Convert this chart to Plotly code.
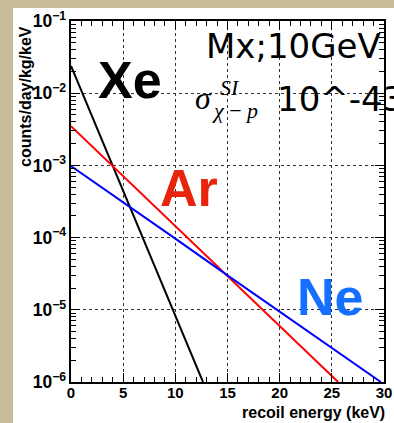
import plotly.graph_objects as go

# ---- data (energy in keV, rate in counts/day/kg/keV) ----
xe_energy = [0, 4, 6, 8, 10, 12, 12.65]
xe_rate = [0.0238, 9.9e-4, 2.0e-4, 4.1e-5, 8.4e-6, 1.7e-6, 1.0e-6]

ar_energy = [0, 5, 10, 15, 20, 25, 25.6]
ar_rate = [3.5e-3, 7.1e-4, 1.45e-4, 2.95e-5, 6.0e-6, 1.22e-6, 1.0e-6]

ne_energy = [0, 5, 10, 15, 20, 25, 29.7]
ne_rate = [9.8e-4, 3.1e-4, 9.7e-5, 3.0e-5, 9.5e-6, 3.0e-6, 1.0e-6]

x_ticks = [0, 5, 10, 15, 20, 25, 30]

W, H = 394, 423
L, R, T, B = 71, 10, 21, 41
PW, PH = W - L - R, H - T - B


def px(xpix):
    return (xpix - L) / PW


def py(ypix):
    return (H - B - ypix) / PH


BOLD = "Liberation Sans"
BEIGE = "#c7bc98"
fig = go.Figure()
fig.add_trace(go.Scatter(x=xe_energy, y=xe_rate, mode="lines",
                         line=dict(color="black", width=2), showlegend=False))
fig.add_trace(go.Scatter(x=ar_energy, y=ar_rate, mode="lines",
                         line=dict(color="#ff0000", width=2), showlegend=False))
fig.add_trace(go.Scatter(x=ne_energy, y=ne_rate, mode="lines",
                         line=dict(color="#0000ff", width=2), showlegend=False))

axis_common = dict(
    showline=True, linecolor="black", linewidth=2, mirror="allticks",
    ticks="inside", ticklen=9, tickwidth=1, tickcolor="black",
    showgrid=True, gridcolor="#333333", griddash="dot", gridwidth=1,
    zeroline=False, automargin=False,
)

fig.update_xaxes(range=[0, 30], tickvals=x_ticks, ticktext=[str(v) for v in x_ticks],
                 tickfont=dict(family=BOLD, size=15, color="black", weight="bold"),
                 minor=dict(dtick=1, ticks="inside", ticklen=5, tickcolor="black", showgrid=False),
                 ticklabelstandoff=-4,
                 **axis_common)
fig.update_yaxes(type="log", range=[-6, -1], dtick=1, exponentformat="power",
                 tickfont=dict(family=BOLD, size=14, color="black", weight="bold"),
                 minor=dict(dtick="D1", ticks="inside", ticklen=5, tickcolor="black", showgrid=False),
                 **axis_common)

anns = [
    dict(text="Xe", x=px(130), y=py(80), font=dict(family=BOLD, size=52, color="black", weight="bold"),
         xanchor="center", yanchor="middle"),
    dict(text="Ar", x=px(189), y=py(188), font=dict(family=BOLD, size=52, color="#e8250c", weight="bold"),
         xanchor="center", yanchor="middle"),
    dict(text="Ne", x=px(330), y=py(297), font=dict(family=BOLD, size=52, color="#1570ff", weight="bold"),
         xanchor="center", yanchor="middle"),
    dict(text="Mx;10GeV", x=px(204), y=py(46), font=dict(family="DejaVu Sans", size=34, color="black"),
         xanchor="left", yanchor="middle"),
    dict(text="<i>σ</i>", x=px(203), y=py(98), font=dict(family="Liberation Serif", size=32, color="black"),
         xanchor="center", yanchor="middle"),
    dict(text="<i>SI</i>", x=px(218), y=py(87), font=dict(family="Liberation Serif", size=22, color="black"),
         xanchor="left", yanchor="middle"),
    dict(text="<i>χ</i> − <i>p</i>", x=px(210), y=py(111), font=dict(family="Liberation Serif", size=22, color="black"),
         xanchor="left", yanchor="middle"),
    dict(text="10^-43", x=px(275), y=py(99), font=dict(family="DejaVu Sans", size=34, color="black"),
         xanchor="left", yanchor="middle"),
    dict(text="counts/day/kg/keV", x=px(25), y=py(97), textangle=-90,
         font=dict(family=BOLD, size=16, color="black", weight="bold"),
         xanchor="center", yanchor="middle"),
    dict(text="recoil energy (keV)", x=px(387), y=py(412),
         font=dict(family=BOLD, size=16, color="black", weight="bold"),
         xanchor="right", yanchor="middle"),
]
for a in anns:
    a.update(xref="paper", yref="paper", showarrow=False)

fig.update_layout(
    width=W, height=H,
    margin=dict(l=L, r=R, t=T, b=B, pad=0),
    paper_bgcolor="white",
    plot_bgcolor="white",
    annotations=anns,
    shapes=[
        dict(type="rect", xref="paper", yref="paper", layer="below",
             x0=px(-5), x1=px(13), y0=py(H + 5), y1=py(-5),
             fillcolor=BEIGE, line=dict(width=0)),
        dict(type="rect", xref="paper", yref="paper", layer="below",
             x0=px(-5), x1=px(W + 5), y0=py(8), y1=py(-5),
             fillcolor=BEIGE, line=dict(width=0)),
    ],
)

fig.write_html("out.html")
